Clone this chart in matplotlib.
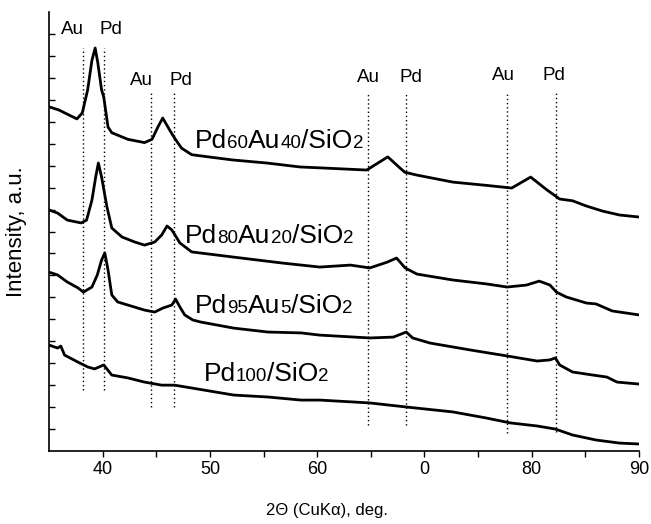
import matplotlib
matplotlib.use("Agg")
import matplotlib.pyplot as plt
import matplotlib.transforms as mtransforms

plt.rcParams['font.family'] = ['Liberation Sans', 'DejaVu Sans']

# XRD patterns (2theta, intensity in a.u.)
pd60_x = [35.0, 35.9, 37.6, 38.1, 38.6, 39.0, 39.3, 39.55, 39.9, 40.1, 40.5, 40.85,
          42.35, 43.9, 44.6, 45.15, 45.6, 46.25, 46.7, 47.35, 48.3, 49.06, 52.1,
          55.3, 58.4, 60.24, 64.62, 66.58, 67.7, 68.17, 69.29, 72.65, 75.8, 78.13,
          79.9, 81.4, 82.6, 83.8, 85.1, 86.6, 88.2, 90.0]
pd60_y = [15.68, 15.54, 15.13, 15.4, 16.45, 17.8, 18.36, 17.68, 16.45, 16.13, 14.76,
          14.5, 14.2, 14.05, 14.2, 14.76, 15.17, 14.62, 14.26, 13.8, 13.5, 13.45,
          13.26, 13.12, 12.94, 12.9, 12.8, 13.4, 12.9, 12.7, 12.57, 12.25, 12.1,
          11.98, 12.48, 11.9, 11.48, 11.4, 11.16, 10.93, 10.75, 10.66]

pd80_x = [35.0, 35.8, 36.7, 38.0, 38.5, 39.0, 39.35, 39.6, 39.9, 40.4, 40.85, 41.8,
          43.0, 43.9, 44.85, 45.5, 46.0, 46.45, 47.2, 48.3, 52.1, 56.8, 60.24, 63.1,
          64.9, 66.5, 67.4, 68.2, 69.3, 72.65, 75.8, 77.7, 79.5, 80.7, 81.7, 82.3,
          83.2, 85.1, 86.0, 87.5, 90.0]
pd80_y = [10.98, 10.84, 10.52, 10.39, 10.52, 11.43, 12.48, 13.12, 12.48, 11.12, 10.16,
          9.75, 9.52, 9.38, 9.52, 9.84, 10.25, 10.07, 9.48, 9.07, 8.84, 8.56, 8.38,
          8.47, 8.34, 8.6, 8.79, 8.34, 8.06, 7.79, 7.61, 7.47, 7.56, 7.74, 7.56,
          7.24, 7.02, 6.74, 6.7, 6.38, 6.2]

pd95_x = [35.0, 35.8, 36.7, 37.7, 38.2, 39.0, 39.5, 39.9, 40.2, 40.5, 40.85, 41.4,
          42.35, 43.9, 44.85, 45.6, 46.45, 46.8, 47.2, 47.65, 48.4, 49.1, 52.2,
          55.4, 58.5, 60.24, 64.9, 67.1, 68.3, 68.9, 70.5, 74.3, 77.7, 80.5, 81.7,
          82.2, 82.6, 83.8, 85.7, 87.0, 87.95, 90.0]
pd95_y = [8.15, 8.02, 7.7, 7.43, 7.24, 7.47, 8.02, 8.7, 9.02, 8.25, 7.11, 6.79, 6.65,
          6.42, 6.33, 6.51, 6.65, 6.92, 6.56, 6.2, 5.97, 5.88, 5.6, 5.42, 5.38, 5.28,
          5.15, 5.19, 5.42, 5.15, 4.92, 4.6, 4.33, 4.1, 4.15, 4.24, 3.92, 3.6, 3.46,
          3.37, 3.14, 3.05]

pd100_x = [35.0, 35.8, 36.1, 36.45, 37.7, 38.6, 39.25, 40.1, 40.85, 42.35, 43.9,
           45.5, 46.7, 48.3, 52.2, 55.4, 58.5, 60.24, 64.9, 68.4, 72.65, 75.8, 78.0,
           80.5, 82.2, 83.8, 86.0, 88.2, 90.0]
pd100_y = [4.83, 4.69, 4.78, 4.37, 4.05, 3.83, 3.74, 3.92, 3.46, 3.33, 3.14, 3.0, 3.0,
           2.87, 2.55, 2.46, 2.32, 2.32, 2.19, 2.0, 1.78, 1.5, 1.28, 1.14, 1.0, 0.73,
           0.5, 0.36, 0.32]

# reference reflections: position, line top, line bottom
ref_labels = ["Au", "Pd", "Au", "Pd", "Au", "Pd", "Au", "Pd"]
ref_pos = [38.13, 40.09, 44.48, 46.63, 64.76, 68.3, 77.69, 82.26]
ref_top = [18.36, 18.36, 16.4, 16.4, 16.35, 16.35, 16.35, 16.35]
ref_bottom = [2.78, 2.78, 2.0, 2.0, 1.18, 1.18, 0.82, 0.87]
ref_label_x = [37.2, 40.75, 43.6, 47.3, 64.75, 68.7, 77.4, 82.1]
ref_label_y = [19.2, 19.2, 16.9, 16.9, 17.0, 17.0, 17.1, 17.1]

# sample names: (text, small?) pieces, start x, baseline y
samples = [
    [("Pd", 0), ("60", 1), ("Au", 0), ("40", 1), ("/SiO", 0), ("2", 1)],
    [("Pd", 0), ("80", 1), ("Au", 0), ("20", 1), ("/SiO", 0), ("2", 1)],
    [("Pd", 0), ("95", 1), ("Au", 0), ("5", 1), ("/SiO", 0), ("2", 1)],
    [("Pd", 0), ("100", 1), ("/SiO", 0), ("2", 1)],
]
sample_x = [48.6, 47.7, 48.6, 49.4]
sample_y = [13.8, 9.48, 6.29, 3.19]

xticks = [40, 50, 60, 70, 80, 90]
xticklabels = ["40", "50", "60", "0", "80", "90"]

fig = plt.figure(figsize=(6.51, 5.24), dpi=100)
ax = fig.add_axes([0.0753, 0.1393, 0.9063, 0.8378])

for xs, ys in [(pd60_x, pd60_y), (pd80_x, pd80_y), (pd95_x, pd95_y), (pd100_x, pd100_y)]:
    ax.plot(xs, ys, color="black", lw=2.0, solid_joinstyle="round")

for p, t, b in zip(ref_pos, ref_top, ref_bottom):
    ax.plot([p, p], [b, t], color="black", lw=1.0, linestyle=(0, (1, 2)))

for s, x, y in zip(ref_labels, ref_label_x, ref_label_y):
    ax.text(x, y, s, fontsize=13.5, ha="center", va="center")

renderer = fig.canvas.get_renderer()
for parts, x, y in zip(samples, sample_x, sample_y):
    dx = 0
    for s, small in parts:
        tr = mtransforms.offset_copy(ax.transData, fig=fig, x=dx, y=0, units="dots")
        t = ax.text(x, y, s, fontsize=13.5 if small else 19, transform=tr,
                    ha="left", va="baseline")
        dx += t.get_window_extent(renderer).width

ax.set_xlim(35, 90)
ax.set_ylim(0, 20)
ax.set_xticks(xticks)
ax.set_xticklabels(xticklabels)
ax.set_xticks([45, 55, 65, 75, 85], minor=True)
ax.set_yticks(range(1, 20))
ax.set_yticklabels([])
ax.tick_params(axis="x", which="both", direction="out", length=4, width=1, labelsize=13)
ax.tick_params(axis="y", direction="in", length=4, width=1)
ax.spines["top"].set_visible(False)
ax.spines["right"].set_visible(False)
ax.spines["left"].set_linewidth(1.2)
ax.spines["bottom"].set_linewidth(1.2)

ax.set_xlabel("2\u0398 (CuK\u03b1), deg.", fontsize=12)
ax.xaxis.set_label_coords(0.471, -0.118)
ax.set_ylabel("Intensity, a.u.", fontsize=16)
ax.yaxis.set_label_coords(-0.037, 0.5)

fig.savefig("out.png", dpi=100)
